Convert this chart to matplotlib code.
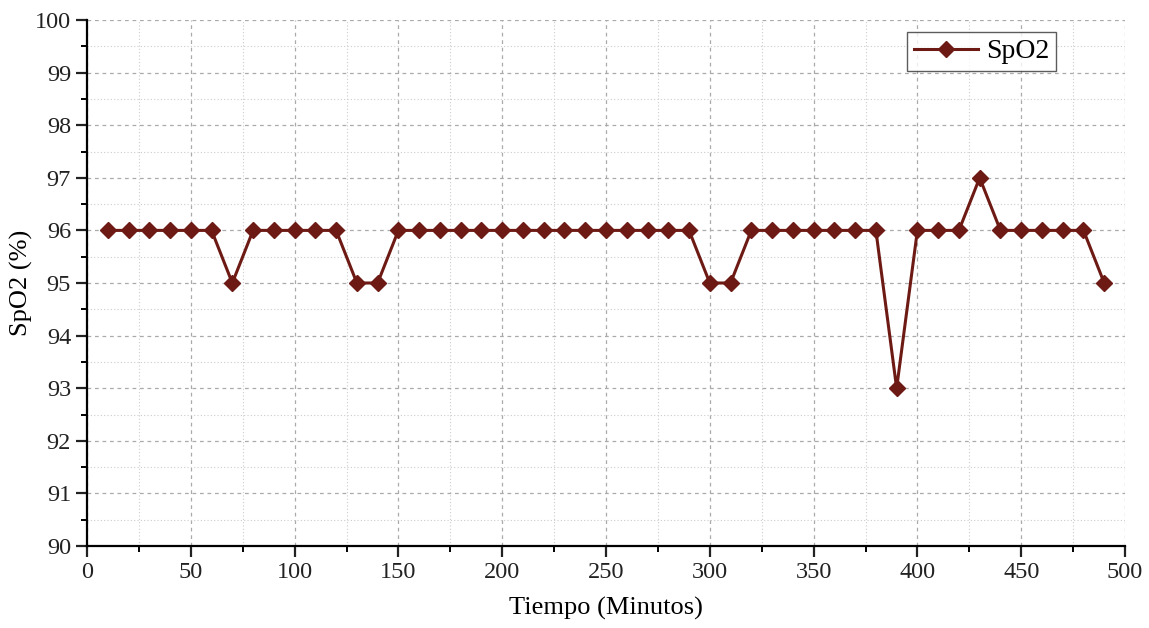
import matplotlib
matplotlib.use("Agg")
import matplotlib.pyplot as plt
from matplotlib.ticker import MultipleLocator

# data
tiempo = [10, 20, 30, 40, 50, 60, 70, 80, 90, 100,
          110, 120, 130, 140, 150, 160, 170, 180, 190, 200,
          210, 220, 230, 240, 250, 260, 270, 280, 290, 300,
          310, 320, 330, 340, 350, 360, 370, 380, 390, 400,
          410, 420, 430, 440, 450, 460, 470, 480, 490]
spo2 = [96, 96, 96, 96, 96, 96, 95, 96, 96, 96,
        96, 96, 95, 95, 96, 96, 96, 96, 96, 96,
        96, 96, 96, 96, 96, 96, 96, 96, 96, 95,
        95, 96, 96, 96, 96, 96, 96, 96, 93, 96,
        96, 96, 97, 96, 96, 96, 96, 96, 95]

plt.rcParams['font.family'] = ['Liberation Serif', 'DejaVu Serif']

fig = plt.figure(figsize=(11.49, 6.28), dpi=100)
ax = fig.add_axes([87 / 1149, 82 / 628, (1125 - 87) / 1149, (546 - 20) / 628])

line_color = '#6e1a14'
ax.plot(tiempo, spo2, color=line_color, linewidth=2.2, marker='D',
        markersize=8.5, label='SpO2', zorder=3)

ax.set_xlim(0, 500)
ax.set_ylim(90, 100)
ax.xaxis.set_major_locator(MultipleLocator(50))
ax.xaxis.set_minor_locator(MultipleLocator(25))
ax.yaxis.set_major_locator(MultipleLocator(1))
ax.yaxis.set_minor_locator(MultipleLocator(0.5))

# grid: dashed on major, dotted on minor
ax.grid(which='major', color='#aaaaaa', linestyle=(0, (3, 3)), linewidth=0.9)
ax.grid(which='minor', color='#cccccc', linestyle=(0, (1, 2)), linewidth=0.8)
ax.set_axisbelow(True)

ax.spines['top'].set_visible(False)
ax.spines['right'].set_visible(False)
ax.spines['left'].set_linewidth(1.6)
ax.spines['bottom'].set_linewidth(1.6)

ax.tick_params(which='major', direction='out', length=8, width=1.6,
               labelsize=17.5, colors='#222222')
ax.tick_params(which='minor', direction='out', length=4, width=1.4)

ax.set_xlabel('Tiempo (Minutos)', fontsize=19, labelpad=10)
ax.set_ylabel('SpO2 (%)', fontsize=19)
ax.yaxis.set_label_coords(-0.052, 0.5)

leg = ax.legend(loc='upper right', bbox_to_anchor=(0.934, 0.977), fontsize=20,
                frameon=True, fancybox=False, handlelength=2.3,
                borderpad=0.25, handletextpad=0.3, borderaxespad=0)
leg.get_frame().set_edgecolor('#333333')
leg.get_frame().set_linewidth(1.0)

fig.savefig('out.png', dpi=100)
